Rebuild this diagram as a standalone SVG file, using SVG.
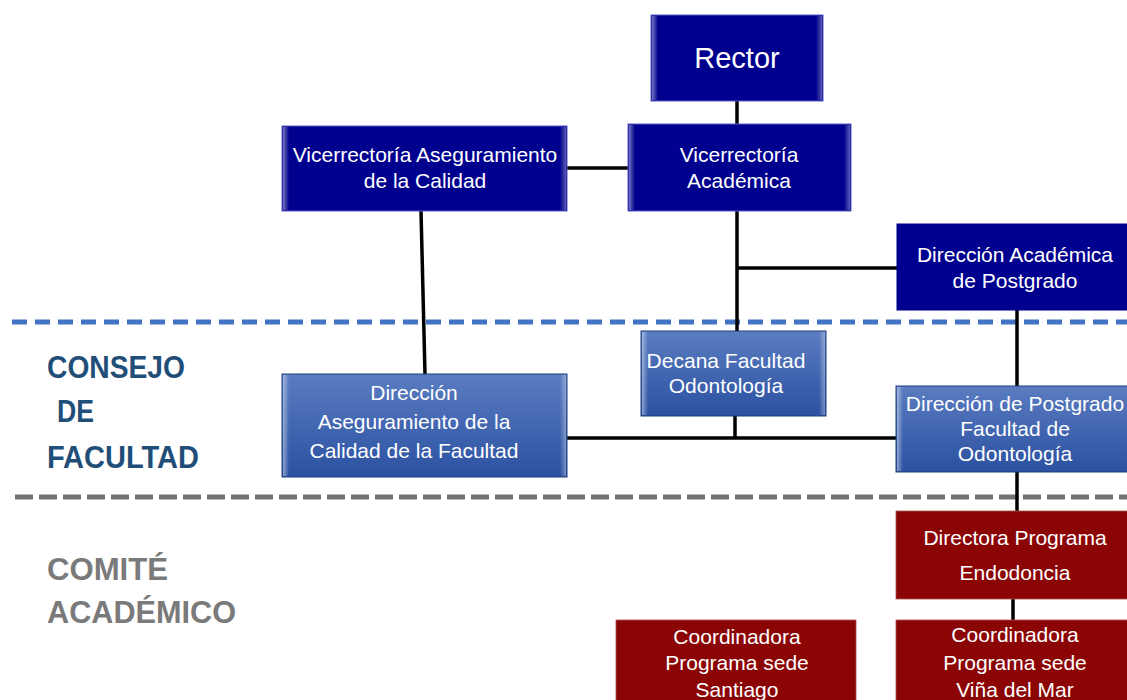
<svg xmlns="http://www.w3.org/2000/svg" width="1127" height="700" viewBox="0 0 1127 700">
<defs>
<linearGradient id="gBlue" x1="0" y1="0" x2="0" y2="1">
<stop offset="0" stop-color="#5a7cc0"/>
<stop offset="1" stop-color="#2b51a1"/>
</linearGradient>
<linearGradient id="bevL" x1="0" y1="0" x2="1" y2="0">
<stop offset="0" stop-color="#ffffff" stop-opacity="0.45"/>
<stop offset="1" stop-color="#ffffff" stop-opacity="0"/>
</linearGradient>
<linearGradient id="bevR" x1="1" y1="0" x2="0" y2="0">
<stop offset="0" stop-color="#ffffff" stop-opacity="0.35"/>
<stop offset="1" stop-color="#ffffff" stop-opacity="0"/>
</linearGradient>
</defs>
<style>
.navy{fill:#00008e;stroke:#5c5cc8;stroke-width:1}
.blue{fill:url(#gBlue);stroke:#1e3f80;stroke-width:1}
.red{fill:#8b0505;stroke:#b05050;stroke-width:0.8}
.t{font-family:"Liberation Sans",Arial,sans-serif;font-size:21px;fill:#ffffff;text-anchor:middle}
.big{font-size:29px}
.conn{stroke:#000000;stroke-width:3.5;fill:none}
.lab1{font-family:"Liberation Sans",Arial,sans-serif;font-weight:bold;font-size:31px;fill:#1f4e79}
.lab2{font-family:"Liberation Sans",Arial,sans-serif;font-weight:bold;font-size:31px;fill:#7a7a7a}
</style>
<rect width="1127" height="700" fill="#ffffff"/>

<!-- separators -->
<line x1="12" y1="322" x2="1127" y2="322" stroke="#4472c4" stroke-width="5" stroke-dasharray="15 8"/>
<line x1="15" y1="497" x2="1127" y2="497" stroke="#767171" stroke-width="5" stroke-dasharray="18 6"/>

<!-- side labels -->
<g id="label-consejo">
<text class="lab1" x="47" y="378" textLength="138" lengthAdjust="spacingAndGlyphs">CONSEJO</text>
<text class="lab1" x="57" y="422" textLength="37" lengthAdjust="spacingAndGlyphs">DE</text>
<text class="lab1" x="47" y="468" textLength="152" lengthAdjust="spacingAndGlyphs">FACULTAD</text>
</g>
<g id="label-comite">
<text class="lab2" x="47" y="580" textLength="121" lengthAdjust="spacingAndGlyphs">COMITÉ</text>
<text class="lab2" x="47" y="623" textLength="189" lengthAdjust="spacingAndGlyphs">ACADÉMICO</text>
</g>

<!-- connectors -->
<g id="connectors">
<line class="conn" x1="737" y1="101" x2="737" y2="124"/>
<line class="conn" x1="567" y1="168" x2="628" y2="168"/>
<line class="conn" x1="737" y1="211" x2="737" y2="331"/>
<line class="conn" x1="737" y1="268" x2="897" y2="268"/>
<line class="conn" x1="1017" y1="310" x2="1017" y2="387"/>
<line class="conn" x1="421" y1="211" x2="425" y2="374"/>
<line class="conn" x1="735" y1="416" x2="735" y2="438"/>
<line class="conn" x1="567" y1="438" x2="897" y2="438"/>
<line class="conn" x1="1017" y1="472" x2="1017" y2="511"/>
<line class="conn" x1="1013" y1="599" x2="1013" y2="620"/>
</g>

<!-- nodes -->
<g id="rector">
<rect class="navy" x="651" y="15" width="172" height="86"/>
<rect x="652" y="16" width="6" height="84" fill="url(#bevL)"/>
<rect x="816" y="16" width="6" height="84" fill="url(#bevR)"/>
<text class="t big" x="737" y="68">Rector</text>
</g>

<g id="vice-aseguramiento">
<rect class="navy" x="282" y="126" width="285" height="85"/>
<rect x="283" y="127" width="6" height="83" fill="url(#bevL)"/>
<rect x="560" y="127" width="6" height="83" fill="url(#bevR)"/>
<text class="t" x="425" y="162">Vicerrectoría Aseguramiento</text>
<text class="t" x="425" y="188">de la Calidad</text>
</g>

<g id="vice-academica">
<rect class="navy" x="628" y="124" width="223" height="87"/>
<rect x="629" y="125" width="6" height="85" fill="url(#bevL)"/>
<rect x="844" y="125" width="6" height="85" fill="url(#bevR)"/>
<text class="t" x="739" y="162">Vicerrectoría</text>
<text class="t" x="739" y="188">Académica</text>
</g>

<g id="dir-academica-postgrado">
<rect x="897" y="224" width="231" height="86" fill="#00008e" stroke="#00008e"/>
<text class="t" x="1015" y="262">Dirección Académica</text>
<text class="t" x="1015" y="288">de Postgrado</text>
</g>

<g id="decana">
<rect class="blue" x="641" y="331" width="185" height="85"/>
<rect x="642" y="332" width="6" height="83" fill="url(#bevL)"/>
<rect x="819" y="332" width="6" height="83" fill="url(#bevR)"/>
<text class="t" x="726" y="368">Decana Facultad</text>
<text class="t" x="726" y="393">Odontología</text>
</g>

<g id="dir-aseguramiento-facultad">
<rect class="blue" x="282" y="374" width="285" height="103"/>
<rect x="283" y="375" width="6" height="101" fill="url(#bevL)"/>
<rect x="560" y="375" width="6" height="101" fill="url(#bevR)"/>
<text class="t" x="414" y="400">Dirección</text>
<text class="t" x="414" y="429">Aseguramiento de la</text>
<text class="t" x="414" y="458">Calidad de la Facultad</text>
</g>

<g id="dir-postgrado-facultad">
<rect class="blue" x="896" y="386" width="232" height="86"/>
<rect x="897" y="387" width="6" height="84" fill="url(#bevL)"/>
<text class="t" x="1015" y="411">Dirección de Postgrado</text>
<text class="t" x="1015" y="436">Facultad de</text>
<text class="t" x="1015" y="461">Odontología</text>
</g>

<g id="directora-endodoncia">
<rect class="red" x="896" y="511" width="232" height="88"/>
<text class="t" x="1015" y="545">Directora Programa</text>
<text class="t" x="1015" y="580">Endodoncia</text>
</g>

<g id="coord-santiago">
<rect class="red" x="616" y="620" width="240" height="90"/>
<text class="t" x="737" y="644">Coordinadora</text>
<text class="t" x="737" y="670">Programa sede</text>
<text class="t" x="737" y="697">Santiago</text>
</g>

<g id="coord-vina">
<rect class="red" x="896" y="620" width="232" height="90"/>
<text class="t" x="1015" y="642">Coordinadora</text>
<text class="t" x="1015" y="670">Programa sede</text>
<text class="t" x="1015" y="697">Viña del Mar</text>
</g>
</svg>
